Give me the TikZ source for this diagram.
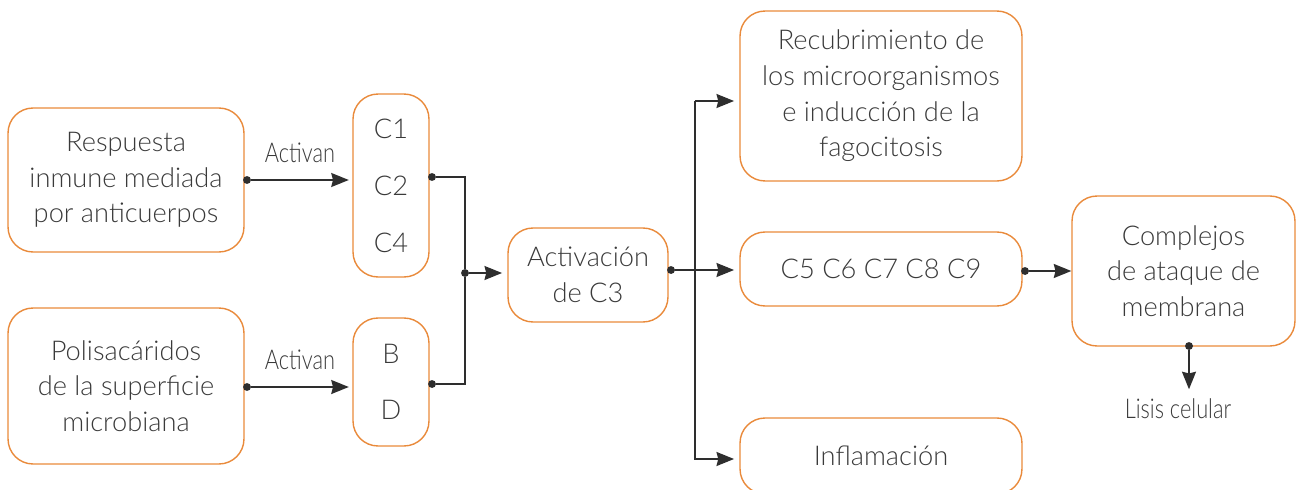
\documentclass[tikz,border=0pt]{standalone}
\usepackage{fontspec}
\setmainfont{Lato}[UprightFont=* Light]
\usepackage{xcolor}
\usetikzlibrary{positioning,arrows.meta}
\definecolor{naranja}{HTML}{E98A3B}
\definecolor{linea}{HTML}{2E2E2E}
\definecolor{texto}{HTML}{3A3A3A}
\begin{document}
\begin{tikzpicture}[x=0.02cm,y=-0.02cm]
\tikzstyle{caja}=[rectangle,draw=naranja,line width=0.8pt,rounded corners=0.5cm,align=center,text=texto,font=\fontsize{15.5}{20.3}\selectfont]
\tikzstyle{punto}=[circle,fill=linea,inner sep=0pt,minimum size=4.5pt]
\tikzstyle{flecha}=[draw=linea,line width=0.8pt,-{Stealth[length=10pt,width=8pt,inset=1pt]}]
\tikzstyle{linea}=[draw=linea,line width=0.8pt]
\tikzstyle{etiqueta}=[text=texto,font=\fontsize{15.5}{18}\selectfont]
\useasboundingbox (0,0) rectangle (1296,490);
% columna izquierda
\node (resp) [caja, minimum width=4.72cm, minimum height=2.88cm] at (126,180) {Respuesta\\ inmune mediada\\ por anticuerpos};
\node (poli) [caja, minimum width=4.72cm, minimum height=3.12cm] at (126,386) {Polisacáridos\\ de la superficie\\ microbiana};
\node (c124) [caja, minimum width=1.52cm, minimum height=3.66cm, font=\fontsize{15.5}{32.5}\selectfont] at (391,185.5) {C1\\ C2\\ C4};
\node (bd) [caja, minimum width=1.52cm, minimum height=2.56cm, font=\fontsize{15.5}{32}\selectfont] at (391,382) {B\\ D};
\node (c3) [caja, minimum width=3.2cm, minimum height=1.88cm] at (588,275) {Activación\\ de C3};
% columna derecha
\node (recub) [caja, minimum width=5.64cm, minimum height=3.4cm] at (881,96) {Recubrimiento de\\ los microorganismos\\ e inducción de la\\ fagocitosis};
\node (c5) [caja, minimum width=5.64cm, minimum height=1.48cm] at (881,269) {C5 C6 C7 C8 C9};
\node (infl) [caja, minimum width=5.64cm, minimum height=1.52cm] at (881,456) {Inflamación};
\node (compl) [caja, minimum width=4.46cm, minimum height=3.0cm] at (1183.5,271) {Complejos\\ de ataque de\\ membrana};
\node (lisis) [etiqueta] at (1178,409) {\scalebox{0.8}[1]{Lisis celular}};
% puntos
\node (p1) [punto] at (247,180) {};
\node (p2) [punto] at (247,387) {};
\node (p3) [punto] at (432,177) {};
\node (p4) [punto] at (432,384) {};
\node (j) [punto] at (465,273) {};
\node (p5) [punto] at (671,270) {};
\node (p6) [punto] at (1025,271) {};
\node (p7) [punto] at (1189,346) {};
\coordinate (bt) at (695,101);
\coordinate (bb) at (695,459);
% conectores
\draw[flecha] (p1) -- node[etiqueta, above=6pt] {\scalebox{0.8}[1]{Activan}} ([xshift=-2pt]p1 -| c124.west);
\draw[flecha] (p2) -- node[etiqueta, above=6pt] {\scalebox{0.8}[1]{Activan}} ([xshift=-2pt]p2 -| bd.west);
\draw[linea] (p3) -| (j) |- (p4);
\draw[flecha] (j) -- ([xshift=-3pt]j -| c3.west);
\draw[flecha] (p5) -- ([xshift=-3pt]p5 -| c5.west);
\draw[flecha] (bt) -- (bb) -- ([xshift=-3pt]bb -| infl.west);
\draw[flecha] (bt) -- ([xshift=-3pt]bt -| recub.west);
\draw[flecha] (p6) -- (p6 -| compl.west);
\draw[flecha] (p7) -- ([yshift=2pt]p7 |- lisis.north);
\end{tikzpicture}
\end{document}
